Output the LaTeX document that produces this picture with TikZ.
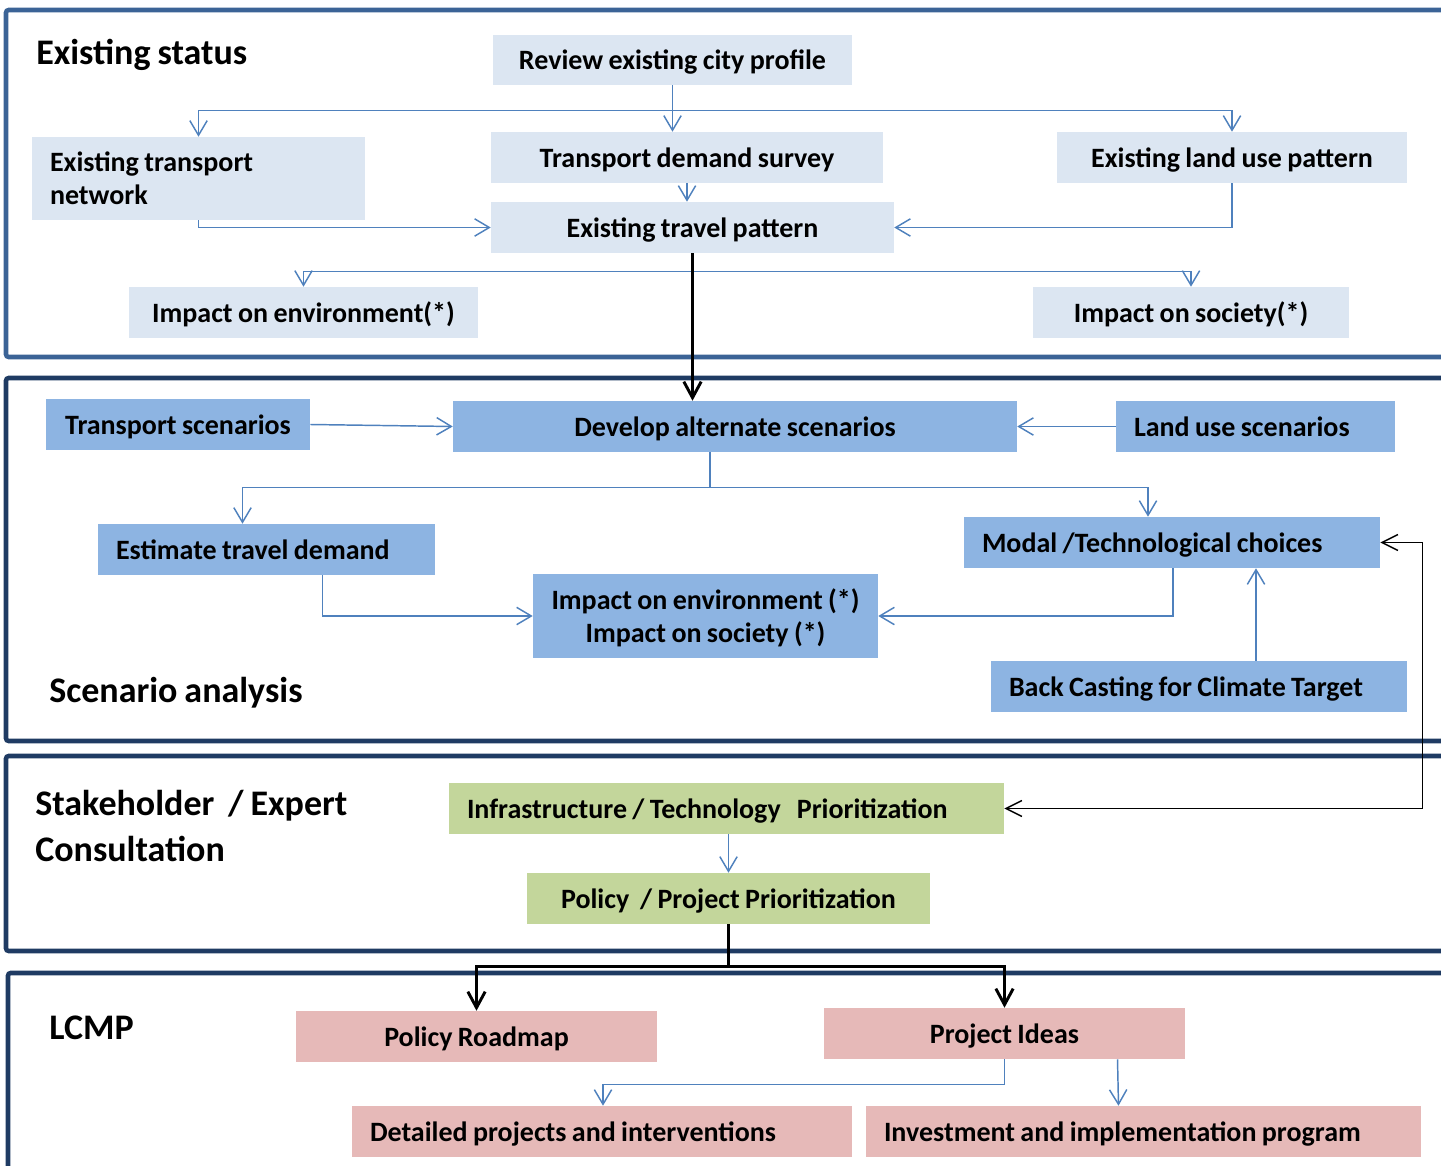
\documentclass[tikz,border=0pt]{standalone}
\usepackage{fontspec}
\setmainfont{Carlito}[WordSpace=0.85]
\usetikzlibrary{arrows.meta,calc}
\definecolor{fillA}{HTML}{DCE6F2}
\definecolor{fillB}{HTML}{8DB4E2}
\definecolor{fillC}{HTML}{C3D69B}
\definecolor{fillD}{HTML}{E6B9B8}
\definecolor{lineblue}{HTML}{4F81BD}
\definecolor{frameA}{HTML}{3B6396}
\definecolor{frameB}{HTML}{1F3B63}
\begin{document}
\begin{tikzpicture}[x=0.75pt,y=-0.75pt,
	every node/.style={font=\bfseries\fontsize{21}{24.75}\selectfont,inner xsep=13.5pt,inner ysep=0pt,text depth=0pt},
	wh/.style 2 args={minimum width=#1*0.75pt,minimum height=#2*0.75pt,align=center},
	lw/.style 2 args={align=flush left,minimum height=#2*0.75pt,/utils/exec={\pgfmathsetmacro\tw{(#1-36)*0.75}},text width=\tw pt},
	title/.style={anchor=west,inner sep=0pt,align=left,font=\bfseries\fontsize{27}{34.5}\selectfont},
	frame/.style={line width=3.4pt,rounded corners=2pt},
	barrow/.style={draw=lineblue,line width=1.1pt,-{Straight Barb[length=11pt,width=13pt]}},
	karrow/.style={draw=black,line width=2.2pt,-{Straight Barb[length=12pt,width=13pt]}},
	kthin/.style={draw=black,line width=1.1pt,{Straight Barb[length=12pt,width=12pt]}-{Straight Barb[length=12pt,width=12pt]}}]
	\useasboundingbox (0,0) rectangle (1441,1166);
	\clip (0,0) rectangle (1441,1166);
	% frames
	\draw[frame,frameA] (1460,10) -| (6,357) -- (1460,357);
	\draw[frame,frameB] (1460,378) -| (6,741) -- (1460,741);
	\draw[frame,frameB] (1460,756) -| (6,951) -- (1460,951);
	\draw[frame,frameB] (1460,973) -| (8,1190);
	% Existing status
	\node[title] at (36,52) {Existing status};
	\node[fill=fillA,wh={359}{50}] (review) at (672.5,60) {Review existing city profile};
	\node[fill=fillA,lw={333}{83},text depth={}] (tnet) at (198.5,178.5) {Existing transport\\network};
	\node[fill=fillA,wh={392}{51}] (demand) at (687,157.5) {Transport demand survey};
	\node[fill=fillA,wh={350}{51}] (landuse) at (1232,157.5) {Existing land use pattern};
	\node[fill=fillA,wh={403}{51}] (travel) at (692.5,227.5) {Existing travel pattern};
	\node[fill=fillA,wh={349}{51}] (envA) at (303.5,312.5) {Impact on environment(*)};
	\node[fill=fillA,wh={316}{51}] (socA) at (1191,312.5) {Impact on society(*)};
	\draw[barrow] (review.south) -- (review.south |- demand.north);
	\draw[barrow] ($(review.south)+(0,25)$) -| (tnet.north);
	\draw[barrow] ($(review.south)+(0,25)$) -| (landuse.north);
	\draw[barrow] (demand.south) -- (demand.south |- travel.north);
	\draw[barrow] (tnet.south) |- (travel.west);
	\draw[barrow] (landuse.south) |- (travel.east);
	\draw[barrow] (travel.south) -- ++(0,18) -| (envA.north);
	\draw[barrow] (travel.south) -- ++(0,18) -| (socA.north);
	% Scenario analysis
	\node[title] at (49,690) {Scenario analysis};
	\node[fill=fillB,wh={264}{51}] (tscen) at (178,424.5) {Transport scenarios};
	\node[fill=fillB,wh={564}{51}] (develop) at (735,426.5) {Develop alternate scenarios};
	\node[fill=fillB,lw={279}{51}] (lscen) at (1255.5,426.5) {Land use scenarios};
	\node[fill=fillB,lw={337}{51}] (estim) at (266.5,549.5) {Estimate travel demand};
	\node[fill=fillB,lw={416}{51}] (modal) at (1172,542.5) {Modal /Technological choices};
	\node[fill=fillB,wh={345}{84}] (impactB) at (705.5,616) {Impact on environment (*)\\Impact on society (*)};
	\node[fill=fillB,lw={416}{51}] (back) at (1199,686.5) {Back Casting for Climate Target};
	\draw[karrow] (travel.south) -- (travel.south |- develop.north);
	\draw[barrow] (tscen.east) -- (develop.west);
	\draw[barrow] (lscen.west) -- (develop.east);
	\coordinate (dsplit) at ($(develop.south)+(-25,35)$);
	\draw[barrow] ($(develop.south)+(-25,0)$) -- (dsplit) -| ($(estim.north)+(-24,0)$);
	\draw[barrow] (dsplit) -| ($(modal.north)+(-24,0)$);
	\draw[barrow] ($(estim.south)+(56,0)$) |- (impactB.west);
	\draw[barrow] ($(modal.south)+(1,0)$) |- (impactB.east);
	\coordinate (bc) at ($(back.north)+(57,0)$);
	\draw[barrow] (bc) -- (bc |- modal.south);
	% Stakeholder / Expert Consultation
	\node[title] at (35,826) {Stakeholder\ \ / Expert\\Consultation};
	\node[fill=fillC,lw={555}{51}] (infra) at (726.5,808.5) {Infrastructure / Technology\ \ \ Prioritization};
	\node[fill=fillC,wh={403}{51}] (policy) at (728.5,898.5) {Policy\ \ / Project Prioritization};
	\draw[kthin] (modal.east) -- ++(42,0) |- (infra.east);
	\draw[barrow] (policy.north |- infra.south) -- (policy.north);
	% LCMP
	\node[title] at (49,1028) {LCMP};
	\node[fill=fillD,wh={361}{51}] (roadmap) at (476.5,1036.5) {Policy Roadmap};
	\node[fill=fillD,wh={361}{51}] (ideas) at (1004.5,1033.5) {Project Ideas};
	\node[fill=fillD,lw={500}{51}] (detail) at (602,1131.5) {Detailed projects and interventions};
	\node[fill=fillD,lw={555}{51}] (invest) at (1143.5,1131.5) {Investment and implementation program};
	\draw[karrow] (policy.south) -- ++(0,42) -| (roadmap.north);
	\draw[karrow] (policy.south) -- ++(0,42) -| (ideas.north);
	\draw[barrow] (ideas.south) -- ++(0,25) -| ($(detail.north)+(1,0)$);
	\draw[barrow] ($(ideas.south)+(113,0)$) -- ($(invest.north)+(-25,0)$);
\end{tikzpicture}
\end{document}
